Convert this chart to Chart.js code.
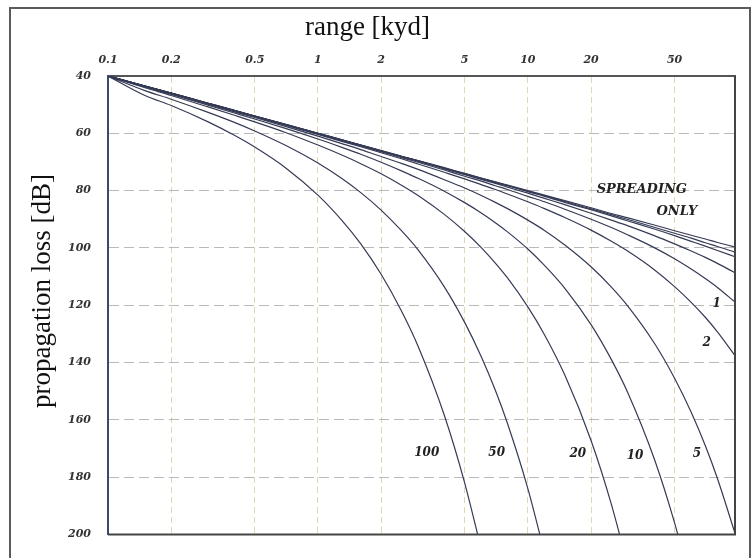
<!DOCTYPE html>
<html>
<head>
<meta charset="utf-8">
<script src="https://cdn.jsdelivr.net/npm/chart.js@4.4.1/dist/chart.umd.min.js"></script>
<style>
  html, body { margin: 0; padding: 0; background: #fff; }
  #wrap { position: relative; width: 753px; height: 558px; overflow: hidden; }
  #frame { position: absolute; left: 9px; top: 7px; width: 742px; height: 580px; border: 2px solid #5a5a5a; box-sizing: border-box; }
  #lossChart { position: absolute; left: 0; top: 0; }
</style>
</head>
<body>
<div id="wrap">
  <div id="frame"></div>
  <canvas id="lossChart" width="753" height="558"></canvas>
</div>
<script>
// range in kyd, shared by all curves
const ranges = [0.1, 0.15, 0.2, 0.3, 0.4, 0.5, 0.7, 1, 1.3, 1.6, 2, 2.5, 3, 4, 5, 6, 7, 8, 10, 12, 15, 20, 25, 30, 40, 50, 60, 70, 80, 97];

// propagation loss [dB] (null = past the bottom of the chart)
const lossSpreading = [40, 43.5, 46.0, 49.5, 52.0, 54.0, 56.9, 60.0, 62.3, 64.1, 66.0, 68.0, 69.5, 72.0, 74.0, 75.6, 76.9, 78.1, 80.0, 81.6, 83.5, 86.0, 88.0, 89.5, 92.0, 94.0, 95.6, 96.9, 98.1, 99.7];
const lossA = [40, 43.5, 46.0, 49.5, 52.0, 54.0, 56.9, 60.0, 62.3, 64.1, 66.1, 68.0, 69.6, 72.1, 74.1, 75.7, 77.0, 78.2, 80.2, 81.8, 83.8, 86.4, 88.4, 90.1, 92.8, 94.9, 96.6, 98.2, 99.5, 101.5];
const lossB = [40, 43.5, 46.0, 49.5, 52.1, 54.0, 56.9, 60.0, 62.3, 64.1, 66.1, 68.1, 69.6, 72.2, 74.2, 75.8, 77.2, 78.3, 80.4, 82.0, 84.1, 86.7, 88.8, 90.6, 93.4, 95.7, 97.7, 99.4, 100.9, 103.1];
const lossC = [40, 43.5, 46.0, 49.6, 52.1, 54.0, 57.0, 60.1, 62.4, 64.2, 66.2, 68.2, 69.8, 72.4, 74.4, 76.1, 77.5, 78.8, 80.9, 82.7, 84.9, 87.9, 90.3, 92.3, 95.7, 98.6, 101.1, 103.3, 105.4, 108.7];
const loss1 = [40, 43.5, 46.1, 49.6, 52.1, 54.1, 57.0, 60.2, 62.5, 64.4, 66.4, 68.5, 70.1, 72.8, 75.0, 76.7, 78.3, 79.6, 82.0, 83.9, 86.5, 90.0, 92.9, 95.5, 99.9, 103.8, 107.4, 110.7, 113.8, 118.9];
const loss2 = [40, 43.6, 46.1, 49.7, 52.2, 54.2, 57.2, 60.4, 62.8, 64.7, 66.8, 68.9, 70.7, 73.6, 75.9, 77.9, 79.6, 81.2, 83.9, 86.3, 89.4, 93.8, 97.7, 101.2, 107.6, 113.5, 119.0, 124.2, 129.3, 137.6];
const loss5 = [40, 43.7, 46.2, 49.9, 52.5, 54.5, 57.6, 61.0, 63.6, 65.7, 68.1, 70.5, 72.6, 76.2, 79.1, 81.7, 84.1, 86.3, 90.3, 93.9, 99.0, 106.6, 113.7, 120.4, 133.2, 145.5, 157.4, 169.0, 180.5, 199.6];
const loss10 = [40, 43.8, 46.4, 50.2, 52.9, 55.0, 58.3, 62.0, 64.9, 67.3, 70.1, 73.1, 75.7, 80.2, 84.2, 87.8, 91.2, 94.4, 100.4, 106.1, 114.1, 126.8, 139.0, 150.7, 173.6, 196.0, 218.0, null, null, null];
const loss20 = [40, 44.1, 46.8, 50.8, 53.7, 56.0, 59.7, 64.1, 67.6, 70.6, 74.1, 78.1, 81.7, 88.3, 94.3, 99.9, 105.3, 110.5, 120.6, 130.3, 144.4, 167.2, 189.5, 211.3, null, null, null, null, null, null];
const loss50 = [40, 45.1, 48.1, 52.7, 56.2, 59.2, 64.2, 70.4, 75.8, 80.7, 86.8, 94.0, 100.7, 113.6, 126.0, 138.0, 149.7, 161.3, 184.0, 206.4, null, null, null, null, null, null, null, null, null, null];
const loss100 = [40, 46.8, 50.3, 56.0, 60.7, 64.8, 72.0, 81.6, 90.4, 98.6, 109.2, 122.0, 134.3, 158.4, 182.0, 205.2, null, null, null, null, null, null, null, null, null, null, null, null, null, null];

const curves = [lossSpreading, lossA, lossB, lossC, loss1, loss2, loss5, loss10, loss20, loss50, loss100];

// axis ticks
const xTicks = [0.1, 0.2, 0.5, 1, 2, 5, 10, 20, 50];
const xTickLabels = ['0.1', '0.2', '0.5', '1', '2', '5', '10', '20', '50'];
const yTicks = [40, 60, 80, 100, 120, 140, 160, 180, 200];

// curve labels, placed in data space (range, loss)
const noteTexts = ['SPREADING', 'ONLY', '1', '2', '5', '10', '20', '50', '100'];
const noteRanges = [34.9, 51.3, 79.4, 71.1, 63.8, 32.4, 17.3, 7.1, 3.3];
const noteLosses = [79.7, 87.4, 119.4, 133.0, 172.0, 172.7, 172.0, 171.4, 171.4];

const datasets = curves.map((vals) => ({
  data: ranges.map((r, i) => ({ x: r, y: vals[i] })).filter((p) => p.y !== null),
  borderColor: '#353a55',
  borderWidth: 1.2,
  pointRadius: 0,
  fill: false,
  cubicInterpolationMode: 'monotone',
}));

// extra drawing: bottom/right plot border, rotated y title, curve labels
const decorPlugin = {
  id: 'decor',
  afterDraw(chart) {
    const { ctx, chartArea, scales } = chart;
    ctx.save();
    ctx.strokeStyle = '#444';
    ctx.lineWidth = 2;
    ctx.beginPath();
    ctx.moveTo(chartArea.left, chartArea.bottom);
    ctx.lineTo(chartArea.right, chartArea.bottom);
    ctx.lineTo(chartArea.right, chartArea.top);
    ctx.stroke();

    ctx.fillStyle = '#111';
    ctx.font = '27px "Liberation Serif"';
    ctx.textAlign = 'center';
    ctx.textBaseline = 'middle';
    ctx.translate(43, 291);
    ctx.rotate(-Math.PI / 2);
    ctx.fillText('propagation loss [dB]', 0, 0);
    ctx.restore();

    ctx.save();
    ctx.fillStyle = '#222';
    ctx.textAlign = 'center';
    ctx.textBaseline = 'middle';
    noteTexts.forEach((t, i) => {
      ctx.font = t.length > 3 ? 'italic bold 13px "DejaVu Serif"' : 'italic bold 12px "DejaVu Serif"';
      ctx.fillText(t, scales.x.getPixelForValue(noteRanges[i]), scales.y.getPixelForValue(noteLosses[i]));
    });
    ctx.restore();
  },
};

const ctx = document.getElementById('lossChart').getContext('2d');
new Chart(ctx, {
  type: 'line',
  data: { datasets },
  plugins: [decorPlugin],
  options: {
    responsive: false,
    animation: false,
    layout: { padding: { left: 0, right: 18, top: 0, bottom: 23 } },
    plugins: {
      legend: { display: false },
      tooltip: { enabled: false },
      title: {
        display: true,
        text: 'range [kyd]',
        position: 'top',
        color: '#111',
        font: { family: '"Liberation Serif"', size: 27, weight: 'normal' },
        padding: { top: 12, bottom: 0 },
      },
    },
    scales: {
      x: {
        type: 'logarithmic',
        position: 'top',
        min: 0.1,
        max: 97,
        afterBuildTicks: (s) => { s.ticks = xTicks.map((v) => ({ value: v })); },
        afterFit: (s) => { s.height = 31.6; },
        ticks: {
          autoSkip: false,
          maxRotation: 0,
          padding: 9,
          color: '#333',
          font: { family: '"DejaVu Serif"', size: 11, style: 'italic', weight: 'bold' },
          callback: (v) => xTickLabels[xTicks.indexOf(v)],
        },
        grid: { color: 'rgba(215,205,160,0.8)', drawTicks: false, lineWidth: 1 },
        border: { display: true, color: '#555', width: 2, dash: [6, 4] },
      },
      y: {
        type: 'linear',
        min: 40,
        max: 200,
        reverse: true,
        afterBuildTicks: (s) => { s.ticks = yTicks.map((v) => ({ value: v })); },
        afterFit: (s) => { s.width = 108; },
        ticks: {
          padding: 17,
          color: '#333',
          font: { family: '"DejaVu Serif"', size: 11, style: 'italic', weight: 'bold' },
        },
        grid: { color: 'rgba(140,140,140,0.6)', drawTicks: false, lineWidth: 1 },
        border: { display: true, color: '#3b4a6b', width: 2, dash: [10, 5] },
      },
    },
  },
});
</script>
</body>
</html>
